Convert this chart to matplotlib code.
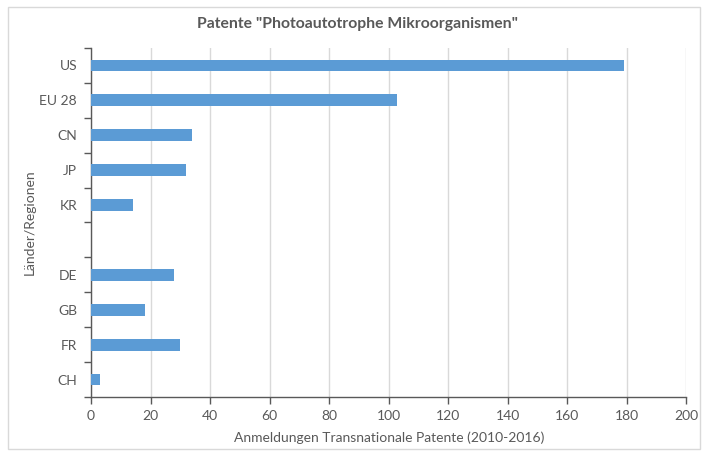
import matplotlib
matplotlib.use("Agg")
import matplotlib.pyplot as plt
from matplotlib.patches import Rectangle
import numpy as np

categories = ["US", "EU 28", "CN", "JP", "KR", "", "DE", "GB", "FR", "CH"]
values = [179, 103, 34, 32, 14, 0, 28, 18, 30, 3]
x_ticks = [0, 20, 40, 60, 80, 100, 120, 140, 160, 180, 200]

title = 'Patente "Photoautotrophe Mikroorganismen"'
xlabel = "Anmeldungen Transnationale Patente (2010-2016)"
ylabel = "Länder/Regionen"

plt.rcParams['font.family'] = ['Lato', 'DejaVu Sans']
txt = "#595959"

fig = plt.figure(figsize=(7.06, 4.57), dpi=100)
W, H = 706, 457
ax = fig.add_axes([91 / W, 1 - 397 / H, (686 - 91) / W, (397 - 48) / H])

n = len(categories)
pos = np.arange(n)
ax.barh(pos, values, height=0.34, color="#5B9BD5", zorder=3)
ax.set_ylim(n - 0.5, -0.5)
ax.set_xlim(0, 200)
ax.set_xticks(x_ticks)
ax.set_xticklabels([str(t) for t in x_ticks])
ax.set_yticks(pos)
ax.set_yticklabels(categories)
ax.set_yticks(np.arange(-0.5, n, 1), minor=True)
ax.tick_params(axis='y', which='major', length=0, pad=10, labelsize=10, labelcolor=txt)
ax.tick_params(axis='y', which='minor', length=5, width=1, color="#595959", direction='out')
ax.tick_params(axis='x', which='major', length=5, width=1, color="#595959", labelsize=10,
               labelcolor=txt, pad=4)
ax.grid(axis='x', color="#D9D9D9", linewidth=1, zorder=0)
for s in ['top', 'right']:
    ax.spines[s].set_visible(False)
for s in ['left', 'bottom']:
    ax.spines[s].set_color("#595959")
    ax.spines[s].set_linewidth(1)

fig.text(358 / W, 1 - 24 / H, title, ha='center', va='center', fontsize=11.3,
         fontweight='bold', color=txt)
fig.text(389 / W, 1 - 438 / H, xlabel, ha='center', va='center', fontsize=10, color=txt)
fig.text(30 / W, 1 - 222 / H, ylabel, ha='center', va='center', fontsize=10, color=txt,
         rotation=90)

fig.patches.append(Rectangle((8 / W, 8 / H), (700 - 8) / W, (450 - 8) / H,
                             transform=fig.transFigure, fill=False,
                             edgecolor="#D9D9D9", linewidth=1))

fig.savefig("out.png", dpi=100)
